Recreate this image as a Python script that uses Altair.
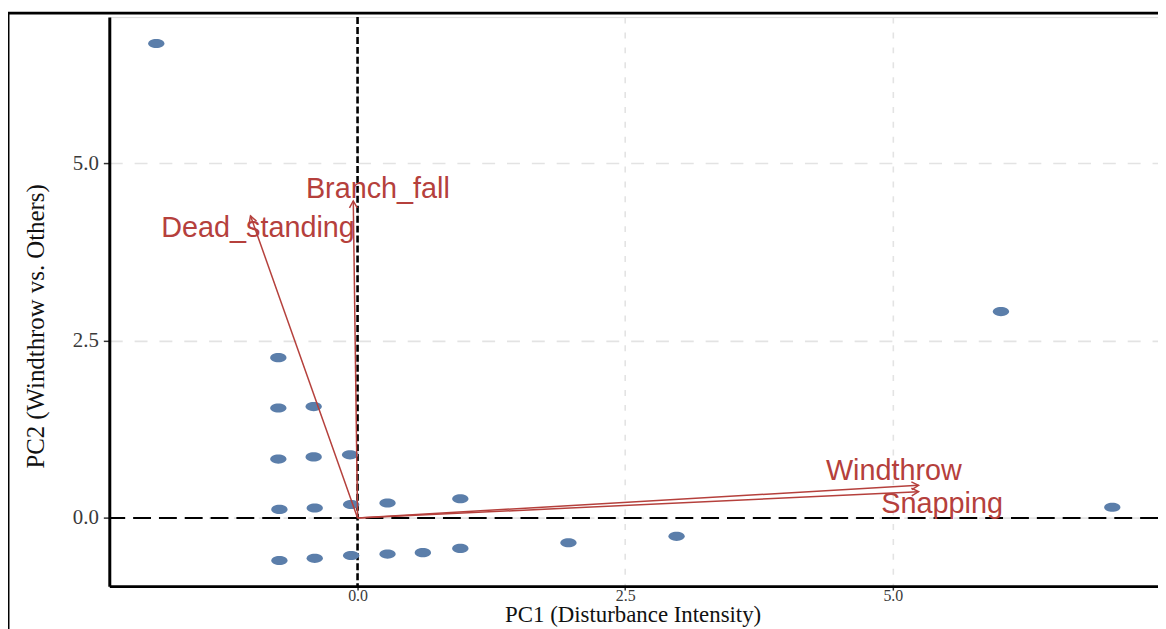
import math
import altair as alt
import pandas as pd

# ---------------- data ----------------
pc1 = [-1.88, 6.01, 7.05, -0.74, -0.74, -0.41, -0.74, -0.41, -0.07,
       -0.73, -0.40, -0.06, 0.28, 0.96, -0.73, -0.40, -0.06, 0.28,
       0.61, 0.96, 1.97, 2.98]
pc2 = [6.69, 2.91, 0.15, 2.26, 1.55, 1.57, 0.83, 0.86, 0.89,
       0.12, 0.14, 0.19, 0.21, 0.27, -0.60, -0.57, -0.53, -0.51,
       -0.49, -0.43, -0.35, -0.26]

var_names = ["Dead_standing", "Branch_fall", "Windthrow", "Snapping"]
load_pc1 = [-1.00, -0.04, 5.24, 5.24]
load_pc2 = [4.26, 4.47, 0.46, 0.37]
label_pc1 = [-0.93, 0.19, 5.01, 5.46]
label_pc2 = [3.96, 4.51, 0.54, 0.075]

tick_vals = [0.0, 2.5, 5.0]

# ---------------- layout ----------------
W, H = 1056, 573
X_DOM = [-2.319, 7.477]
Y_DOM = [-0.962, 7.063]
RED = "#B5403C"
BLUE = "#5B7EAA"

xppu = W / (X_DOM[1] - X_DOM[0])
yppu = H / (Y_DOM[1] - Y_DOM[0])

pts = pd.DataFrame({"PC1": pc1, "PC2": pc2})
arrows = pd.DataFrame({
    "name": var_names,
    "x0": [0.0] * len(var_names),
    "y0": [0.0] * len(var_names),
    "PC1": load_pc1,
    "PC2": load_pc2,
    "lx": label_pc1,
    "ly": label_pc2,
})
arrows["ang"] = [
    math.degrees(math.atan2(-b * yppu, a * xppu)) % 360
    for a, b in zip(load_pc1, load_pc2)
]

xs = alt.Scale(domain=X_DOM, nice=False, zero=False)
ys = alt.Scale(domain=Y_DOM, nice=False, zero=False)

ax_x = alt.Axis(
    values=tick_vals, format=".1f", title="PC1 (Disturbance Intensity)",
    titleFont="Liberation Serif", titleFontSize=23, titleFontWeight="normal",
    titleColor="#111111", titleX=527, titleY=36, titleBaseline="alphabetic",
    titleAlign="center",
    labelFont="Liberation Serif", labelFontSize=16, labelColor="#3a3a3a",
    labelPadding=-3, tickSize=4, tickWidth=1.5, tickColor="#333333",
    domainColor="black", domainWidth=3,
    grid=True, gridColor="#E3E3E3", gridDash=[6, 9], gridWidth=1.6,
)
ax_y = alt.Axis(
    values=tick_vals, format=".1f", title="PC2 (Windthrow vs. Others)",
    titleFont="Liberation Serif", titleFontSize=25, titleFontWeight="normal",
    titleColor="#111111", titleX=-66, titleY=311, titleAngle=270,
    titleBaseline="alphabetic", titleAlign="center",
    labelFont="Liberation Serif", labelFontSize=21, labelColor="#3a3a3a",
    labelPadding=5, tickSize=6, tickWidth=1.5, tickColor="#333333",
    domainColor="black", domainWidth=3,
    grid=True, gridColor="#E3E3E3", gridDash=[13, 12], gridWidth=1.6,
)

one = pd.DataFrame({"a": [0]})

frame_top = alt.Chart(one).mark_rule(color="black", strokeWidth=3).encode(
    x=alt.value(-103), x2=alt.value(W + 10), y=alt.value(-4)
)
frame_left = alt.Chart(one).mark_rule(color="black", strokeWidth=3).encode(
    x=alt.value(-102), y=alt.value(-4), y2=alt.value(H + 60)
)

hline = alt.Chart(one).mark_rule(color="black", strokeWidth=2, strokeDash=[18, 8]).encode(
    y=alt.Y(datum=0, scale=ys, axis=ax_y)
)
vline = alt.Chart(one).mark_rule(color="black", strokeWidth=2.6, strokeDash=[7, 3]).encode(
    x=alt.X(datum=0, scale=xs, axis=ax_x)
)

ellipse = ("M -1 0 C -1 -0.31 -0.55 -0.56 0 -0.56 C 0.55 -0.56 1 -0.31 1 0 "
           "C 1 0.31 0.55 0.56 0 0.56 C -0.55 0.56 -1 0.31 -1 0 Z")
points = alt.Chart(pts).mark_point(
    shape=ellipse, filled=True, size=270, color=BLUE, opacity=1, strokeWidth=0
).encode(
    x=alt.X("PC1:Q", scale=xs, axis=ax_x),
    y=alt.Y("PC2:Q", scale=ys, axis=ax_y),
)

segs = alt.Chart(arrows).mark_rule(color=RED, strokeWidth=1.5).encode(
    x=alt.X("x0:Q", scale=xs, axis=ax_x),
    y=alt.Y("y0:Q", scale=ys, axis=ax_y),
    x2="PC1:Q",
    y2="PC2:Q",
)

heads = alt.Chart(arrows).mark_point(
    shape="M -1 -0.56 L 0 0 L -1 0.56", filled=False, size=196,
    color=RED, strokeWidth=1.5, opacity=1
).encode(
    x=alt.X("PC1:Q", scale=xs, axis=ax_x),
    y=alt.Y("PC2:Q", scale=ys, axis=ax_y),
    angle=alt.Angle("ang:Q", scale=None),
)

labels = alt.Chart(arrows).mark_text(
    font="Liberation Sans", fontSize=29, color=RED, align="center",
    baseline="alphabetic"
).encode(
    x=alt.X("lx:Q", scale=xs, axis=ax_x),
    y=alt.Y("ly:Q", scale=ys, axis=ax_y),
    text="name:N",
)

chart = alt.layer(
    frame_top, frame_left, hline, vline, points, segs, heads, labels
).properties(
    width=W, height=H,
    autosize=alt.AutoSizeParams(type="none"),
    padding={"left": 102, "top": 7, "right": 0, "bottom": 41},
).configure_view(stroke=None).configure(background="white")

chart.save("out.html", embed_options={"renderer": "svg", "actions": False})
